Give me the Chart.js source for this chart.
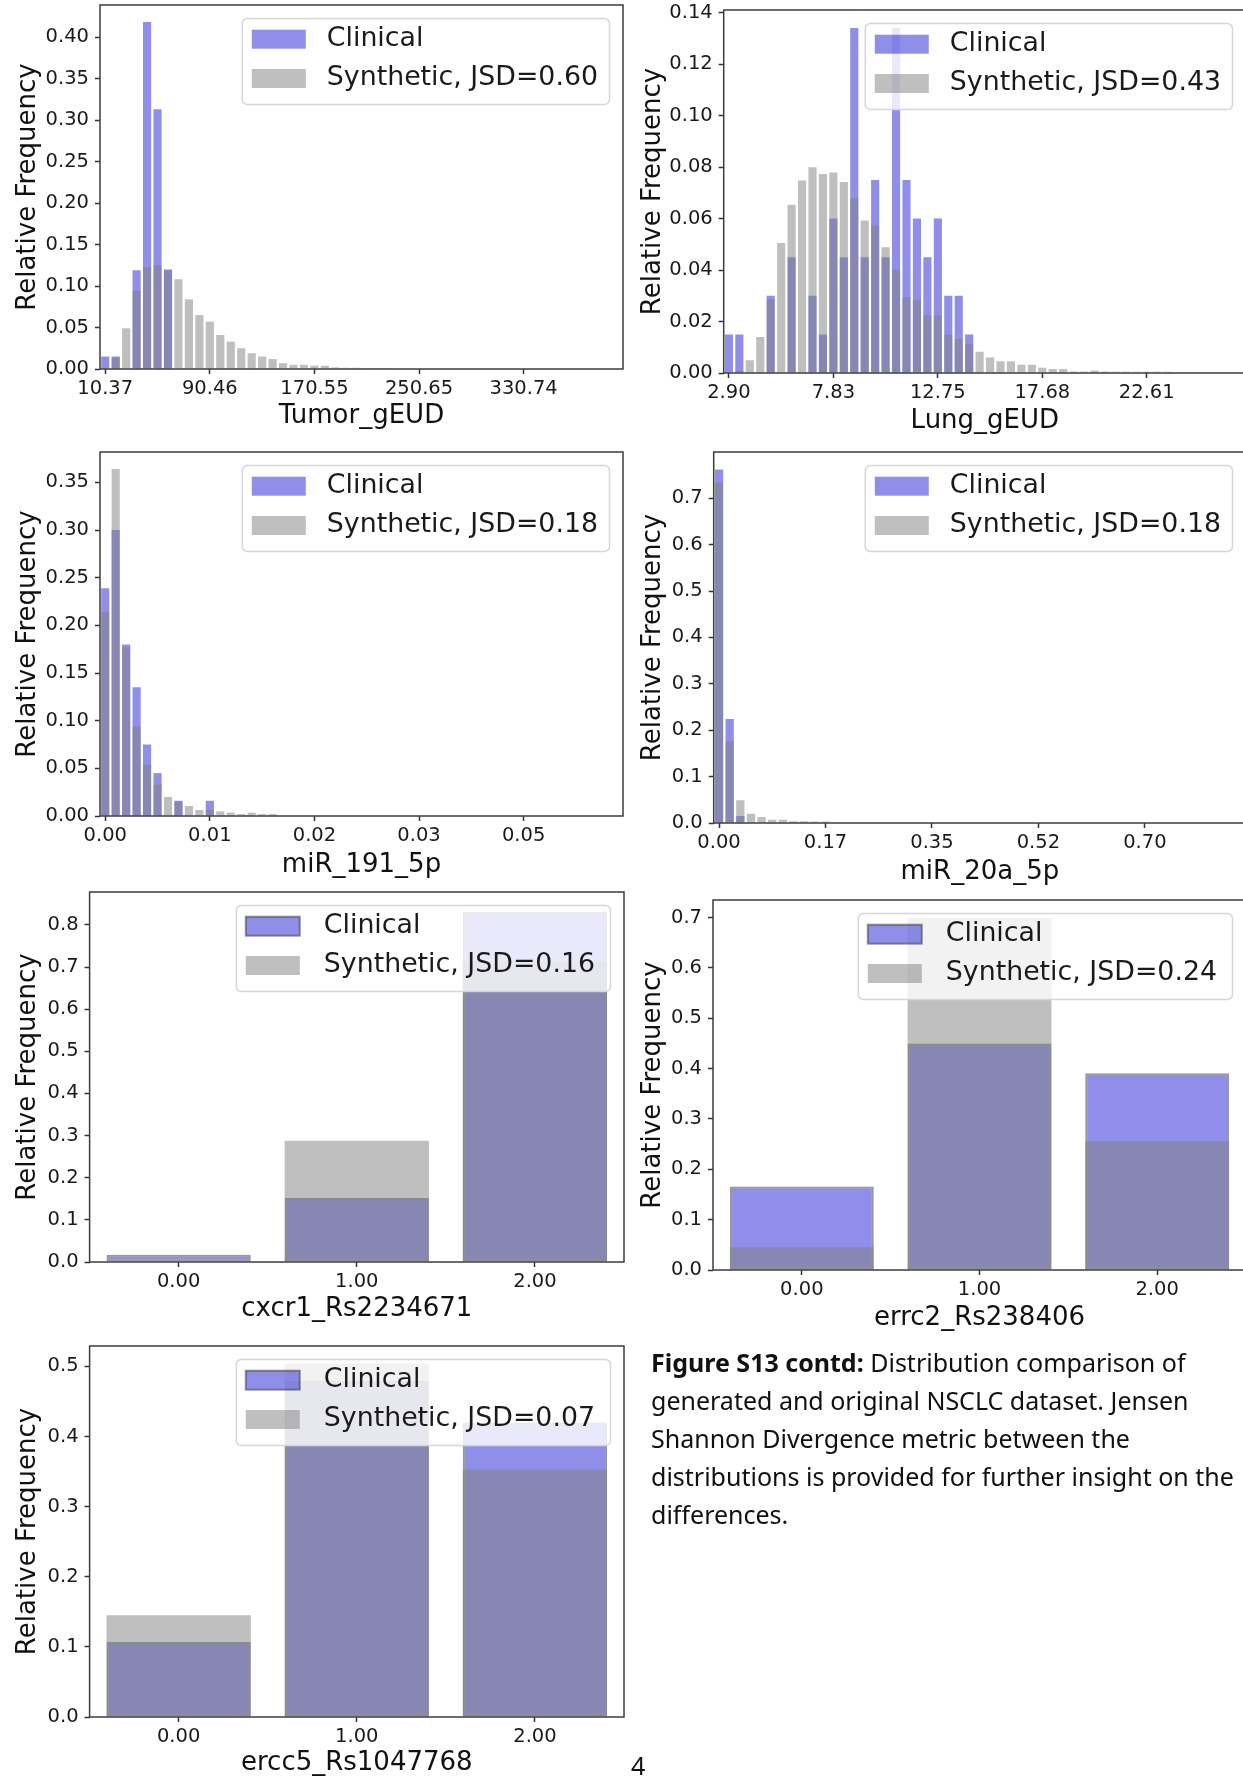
<!DOCTYPE html>
<html>
<head>
<meta charset="utf-8">
<script src="https://cdn.jsdelivr.net/npm/chart.js@4.4.0/dist/chart.umd.min.js"></script>
<style>
  html, body { margin: 0; padding: 0; background: #fff; overflow: hidden; }
  body { width: 1243px; height: 1777px; position: relative; }
  .panel { position: absolute; }
  .panel canvas { display: block; }
  #caption { position: absolute; left: 651px; top: 1343px; font-family: "Noto Sans", sans-serif;
             font-size: 25px; line-height: 38px; color: #111; white-space: nowrap; }
  #pagenum { position: absolute; left: 631px; top: 1746px; font-family: "Noto Sans", sans-serif;
             font-size: 25px; line-height: 38px; color: #111; }
</style>
</head>
<body>
<div class="panel"><canvas id="tumor"></canvas></div>
<div class="panel"><canvas id="lung"></canvas></div>
<div class="panel"><canvas id="mir191"></canvas></div>
<div class="panel"><canvas id="mir20a"></canvas></div>
<div class="panel"><canvas id="cxcr1"></canvas></div>
<div class="panel"><canvas id="errc2"></canvas></div>
<div class="panel"><canvas id="ercc5"></canvas></div>

<div id="caption"><b>Figure S13 contd:</b> Distribution comparison of<br>generated and original NSCLC dataset. Jensen<br>Shannon Divergence metric between the<br>distributions is provided for further insight on the<br>differences.</div>
<div id="pagenum">4</div>

<script>
// ---- data (relative frequencies) ----

// Tumor_gEUD
const tumorClinical = [0.015, 0.015, 0, 0.119, 0.418, 0.313, 0.120];
const tumorSynthetic = [0, 0.014, 0.049, 0.094, 0.123, 0.125, 0.119, 0.108, 0.084, 0.065, 0.057, 0.041,
  0.033, 0.025, 0.019, 0.015, 0.012, 0.007, 0.005, 0.005, 0.004, 0.004, 0.002, 0.0015, 0.0015, 0.0012, 0.001, 0.001];
const tumorXLabels = ['10.37', '90.46', '170.55', '250.65', '330.74'];
const tumorYTicks = [0, 0.05, 0.10, 0.15, 0.20, 0.25, 0.30, 0.35, 0.40];

// Lung_gEUD
const lungClinical = [0.015, 0.015, 0, 0, 0.030, 0, 0.045, 0, 0.030, 0.015, 0.060, 0.045, 0.134, 0.045,
  0.075, 0.045, 0.134, 0.075, 0.060, 0.045, 0.060, 0.030, 0.030, 0.015];
const lungSynthetic = [0, 0.001, 0.005, 0.014, 0.0286, 0.0505, 0.0654, 0.0748, 0.0799, 0.0773, 0.0779, 0.0742,
  0.068, 0.0592, 0.0572, 0.0488, 0.0401, 0.0295, 0.0285, 0.0224, 0.0224, 0.0149, 0.0133, 0.0114, 0.0083, 0.006,
  0.0046, 0.0046, 0.0032, 0.0032, 0.002, 0.0016, 0.0016, 0.0006, 0.0006, 0.001, 0.0006, 0.0005, 0.0005, 0.0005,
  0.0005, 0.0005, 0.0005];
const lungXLabels = ['2.90', '7.83', '12.75', '17.68', '22.61'];
const lungYTicks = [0, 0.02, 0.04, 0.06, 0.08, 0.10, 0.12, 0.14];

// miR_191_5p
const mir191Clinical = [0.239, 0.300, 0.180, 0.135, 0.075, 0.045, 0, 0.016, 0, 0, 0.016];
const mir191Synthetic = [0.214, 0.364, 0.177, 0.094, 0.054, 0.033, 0.020, 0.015, 0.0105, 0.0063, 0.0063,
  0.0049, 0.0035, 0.002, 0.0035, 0.002, 0.002];
const mir191XLabels = ['0.00', '0.01', '0.02', '0.03', '0.05'];
const mir191YTicks = [0, 0.05, 0.10, 0.15, 0.20, 0.25, 0.30, 0.35];

// miR_20a_5p
const mir20aClinical = [0.762, 0.224, 0.015];
const mir20aSynthetic = [0.734, 0.176, 0.049, 0.020, 0.013, 0.007, 0.007, 0.004, 0.004, 0.003, 0.003];
const mir20aXLabels = ['0.00', '0.17', '0.35', '0.52', '0.70'];
const mir20aYTicks = [0, 0.1, 0.2, 0.3, 0.4, 0.5, 0.6, 0.7];

// genotype panels
const genotypeLabels = ['0.00', '1.00', '2.00'];
const cxcr1Clinical = [0.017, 0.152, 0.831];
const cxcr1Synthetic = [0, 0.288, 0.712];
const cxcr1YTicks = [0, 0.1, 0.2, 0.3, 0.4, 0.5, 0.6, 0.7, 0.8];
const errc2Clinical = [0.166, 0.450, 0.391];
const errc2Synthetic = [0.045, 0.699, 0.256];
const errc2YTicks = [0, 0.1, 0.2, 0.3, 0.4, 0.5, 0.6, 0.7];
const ercc5Clinical = [0.107, 0.479, 0.420];
const ercc5Synthetic = [0.145, 0.504, 0.353];
const ercc5YTicks = [0, 0.1, 0.2, 0.3, 0.4, 0.5];

// ---- look ----
const clinicalColor = 'rgba(0, 0, 205, 0.44)';
const syntheticColor = 'rgba(128, 128, 128, 0.5)';
const edgeColor = 'rgba(50, 50, 50, 0.5)';

Chart.defaults.font.family = '"DejaVu Sans", sans-serif';
Chart.defaults.font.size = 19.5;
Chart.defaults.color = '#1a1a1a';

// top padding must beat the y axis label overflow or chart.js pushes the plot down
const PT = 22, PR = 4, XH = 74;

// spines + matplotlib style legend box (upper right)
const frameAndLegend = {
  id: 'frameAndLegend',
  afterDatasetsDraw(chart) {
    const { ctx, chartArea: a } = chart;
    ctx.save();
    ctx.strokeStyle = '#3c3c3c';
    ctx.lineWidth = 1.5;
    ctx.strokeRect(a.left, a.top, a.right - a.left, a.bottom - a.top);

    const sets = chart.data.datasets;
    ctx.font = '26.8px "DejaVu Sans"';
    const textW = Math.max(...sets.map(d => ctx.measureText(d.label).width));
    const edged = sets[0].borderWidth > 0;
    const boxW = 96 + textW + (edged ? 7 : 0);
    const x0 = a.right - 13.5 - boxW, y0 = a.top + 13.5;
    ctx.beginPath();
    ctx.roundRect(x0, y0, boxW, 86, 5);
    ctx.fillStyle = 'rgba(255,255,255,0.8)';
    ctx.fill();
    ctx.strokeStyle = '#d6d6d6';
    ctx.lineWidth = 1.5;
    ctx.stroke();
    sets.forEach((d, i) => {
      const cy = y0 + 20.7 + i * 39.3;
      const hx = x0 + 9.5;
      ctx.fillStyle = d.backgroundColor;
      ctx.fillRect(hx, cy - 9.5, 54, 19);
      if (d.borderWidth) {
        ctx.strokeStyle = d.borderColor;
        ctx.lineWidth = d.borderWidth;
        ctx.strokeRect(hx, cy - 9.5, 54, 19);
      }
      ctx.fillStyle = '#1a1a1a';
      ctx.textBaseline = 'middle';
      ctx.textAlign = 'left';
      ctx.fillText(d.label, hx + 75 + (edged ? 3 : 0), cy);
    });
    ctx.restore();
  }
};

const tickGrid = { drawOnChartArea: false, drawTicks: true, tickLength: 5, tickWidth: 1.5, tickColor: '#333', offset: false };

function buildChart(id, box, spec) {
  const canvas = document.getElementById(id);
  const div = canvas.parentNode;
  const yw = box.L - box.col;
  div.style.left = box.col + 'px';
  div.style.top = (Math.round(box.T) - PT) + 'px';
  div.style.width = Math.round(box.R - box.col + PR) + 'px';
  div.style.height = (PT + Math.round(box.B - box.T) + XH) + 'px';

  const hist = spec.binWidth !== undefined;
  const toPoints = arr => arr.map((y, i) => ({ x: spec.binStart + i * spec.binWidth, y }));
  const bw = hist ? 0 : 2;

  const xScale = hist ? {
    type: 'linear',
    min: spec.binStart - 0.5 * spec.binWidth,
    max: spec.binStart + 49.5 * spec.binWidth,
    offset: false,
    afterBuildTicks: s => { s.ticks = spec.xLabels.map((_, i) => ({ value: spec.binStart + 10 * i * spec.binWidth })); },
    ticks: { callback: (v, i) => spec.xLabels[i], autoSkip: false, maxRotation: 0, padding: 3.5 }
  } : {
    type: 'category',
    offset: true,
    ticks: { autoSkip: false, maxRotation: 0, padding: 3.5 }
  };
  Object.assign(xScale, {
    grid: tickGrid,
    border: { display: false },
    afterFit: s => { s.height = XH; },
    title: { display: true, text: spec.xTitle, color: '#111', font: { size: 26, lineHeight: 1.2 },
             padding: { top: 0, bottom: XH - box.gap - 15.6 } }
  });

  new Chart(canvas, {
    type: 'bar',
    data: {
      labels: hist ? undefined : genotypeLabels,
      datasets: [
        {
          label: 'Clinical',
          data: hist ? toPoints(spec.clinical) : spec.clinical,
          backgroundColor: clinicalColor,
          borderColor: edgeColor,
          borderWidth: bw,
          borderSkipped: false,
          grouped: false,
          barPercentage: hist ? 0.78 : 0.81,
          categoryPercentage: 1,
          order: 1
        },
        {
          label: 'Synthetic, JSD=' + spec.jsd,
          data: hist ? toPoints(spec.synthetic) : spec.synthetic,
          backgroundColor: syntheticColor,
          borderWidth: 0,
          grouped: false,
          barPercentage: hist ? 0.78 : 0.81,
          categoryPercentage: 1,
          order: 0
        }
      ]
    },
    options: {
      responsive: true,
      maintainAspectRatio: false,
      animation: false,
      devicePixelRatio: 1,
      events: [],
      layout: { padding: { top: PT, right: PR, left: 0, bottom: 0 } },
      plugins: { legend: { display: false }, tooltip: { enabled: false } },
      scales: {
        x: xScale,
        y: {
          min: 0,
          max: spec.yMax,
          afterBuildTicks: s => { s.ticks = spec.yTicks.map(v => ({ value: v })); },
          afterFit: s => { s.width = yw; },
          ticks: { callback: v => v.toFixed(spec.yDec), padding: 6 },
          grid: tickGrid,
          border: { display: false },
          title: { display: true, text: 'Relative Frequency', color: '#111', font: { size: 26, lineHeight: 1.2 },
                   padding: { top: 12.5, bottom: 0 } }
        }
      }
    },
    plugins: [frameAndLegend]
  });
}

buildChart('tumor', { col: 0, L: 100, T: 5, R: 623, B: 369, gap: 47 }, {
  xTitle: 'Tumor_gEUD', jsd: '0.60', binStart: 10.37, binWidth: 8.009, xLabels: tumorXLabels,
  clinical: tumorClinical, synthetic: tumorSynthetic, yTicks: tumorYTicks, yMax: 0.4386, yDec: 2
});
buildChart('lung', { col: 625, L: 723.7, T: 10, R: 1246.4, B: 373, gap: 48 }, {
  xTitle: 'Lung_gEUD', jsd: '0.43', binStart: 2.90, binWidth: 0.49275, xLabels: lungXLabels,
  clinical: lungClinical, synthetic: lungSynthetic, yTicks: lungYTicks, yMax: 0.141, yDec: 2
});
buildChart('mir191', { col: 0, L: 100, T: 452, R: 623, B: 816, gap: 49 }, {
  xTitle: 'miR_191_5p', jsd: '0.18', binStart: 0.00012, binWidth: 0.00113, xLabels: mir191XLabels,
  clinical: mir191Clinical, synthetic: mir191Synthetic, yTicks: mir191YTicks, yMax: 0.3819, yDec: 2
});
buildChart('mir20a', { col: 625, L: 713.7, T: 452, R: 1246.3, B: 823, gap: 49 }, {
  xTitle: 'miR_20a_5p', jsd: '0.18', binStart: 0, binWidth: 0.01744, xLabels: mir20aXLabels,
  clinical: mir20aClinical, synthetic: mir20aSynthetic, yTicks: mir20aYTicks, yMax: 0.7997, yDec: 1
});
buildChart('cxcr1', { col: 0, L: 89.6, T: 892, R: 624, B: 1262, gap: 47 }, {
  xTitle: 'cxcr1_Rs2234671', jsd: '0.16',
  clinical: cxcr1Clinical, synthetic: cxcr1Synthetic, yTicks: cxcr1YTicks, yMax: 0.878, yDec: 1
});
buildChart('errc2', { col: 625, L: 713, T: 900, R: 1246.3, B: 1270, gap: 48.5 }, {
  xTitle: 'errc2_Rs238406', jsd: '0.24',
  clinical: errc2Clinical, synthetic: errc2Synthetic, yTicks: errc2YTicks, yMax: 0.735, yDec: 1
});
buildChart('ercc5', { col: 0, L: 89.6, T: 1346, R: 624, B: 1717, gap: 46.5 }, {
  xTitle: 'ercc5_Rs1047768', jsd: '0.07',
  clinical: ercc5Clinical, synthetic: ercc5Synthetic, yTicks: ercc5YTicks, yMax: 0.529, yDec: 1
});
</script>
</body>
</html>
